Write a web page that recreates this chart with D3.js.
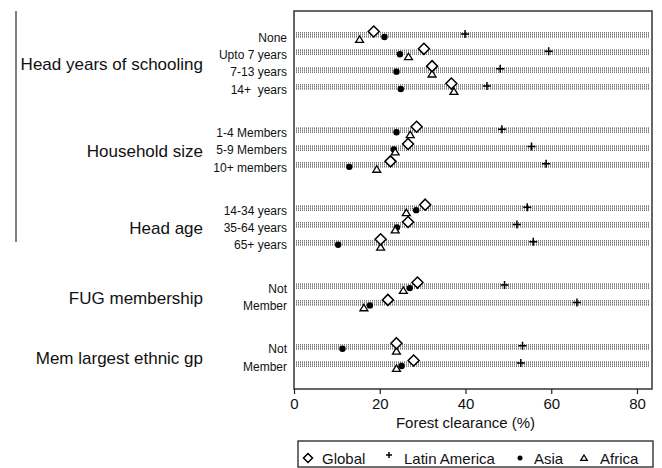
<!DOCTYPE html>
<html><head><meta charset="utf-8">
<script src="https://cdn.jsdelivr.net/npm/d3@7"></script>
<style>body{margin:0;background:#fff}svg{display:block;font-family:"Liberation Sans",Arial,Helvetica,sans-serif}</style>
</head><body><svg id="c" width="662" height="468"></svg>
<script>
const groups = ["Head years of schooling","Household size","Head age","FUG membership","Mem largest ethnic gp"];
const categories = ["None","Upto 7 years","7-13 years","14+  years","1-4 Members","5-9 Members","10+ members","14-34 years","35-64 years","65+ years","Not","Member","Not","Member"];
const categoryGroup = [0,0,0,0,1,1,1,2,2,2,3,3,4,4];
const globalVals = [18.6,30.3,32.2,36.7,28.6,26.6,22.5,30.6,26.6,20.2,28.8,21.9,23.9,27.9];
const latinVals  = [39.9,59.4,48.1,45.0,48.5,55.4,58.8,54.4,52.0,55.8,49.1,66.0,53.3,52.9];
const asiaVals   = [21.1,24.7,23.9,24.9,23.9,23.3,12.9,28.5,24.0,10.3,27.0,17.7,11.3,25.1];
const africaVals = [15.3,26.7,32.2,37.3,27.1,23.6,19.3,26.2,23.6,20.2,25.5,16.3,23.9,23.9];
const xTicks = [0,20,40,60,80];
const seriesNames = ["Global","Latin America","Asia","Africa"];

const svg = d3.select("#c");
const x = d3.scaleLinear().domain([0,83.5]).range([294,652]);
// slot index: item index plus extra gap per group
const slots = categories.map((c,i)=> i + categoryGroup[i]*1.5);
const y = d3.scaleLinear().domain([0,19]).range([35,364]);

// stray vertical line
svg.append("line").attr("x1",16).attr("x2",16).attr("y1",11).attr("y2",242)
  .attr("stroke","#555").attr("stroke-width",1.5);

// pattern for dotted bands
const defs = svg.append("defs");
const pat = defs.append("pattern").attr("id","dots").attr("patternUnits","userSpaceOnUse")
  .attr("width",2).attr("height",2);
pat.append("rect").attr("x",0).attr("y",0).attr("width",1).attr("height",1).attr("fill","#777");
pat.append("rect").attr("x",0).attr("y",1).attr("width",1).attr("height",1).attr("fill","#aaa");

svg.append("g").selectAll("rect").data(slots).join("rect")
  .attr("x",296).attr("width",354)
  .attr("y",d=>Math.round(y(d))-3).attr("height",6)
  .attr("fill","url(#dots)");

// frame
svg.append("rect").attr("x",294).attr("y",11).attr("width",358).attr("height",378)
  .attr("fill","none").attr("stroke","#333").attr("stroke-width",1.5);

// axis
const ax = svg.append("g").attr("transform","translate(0,389)")
  .call(d3.axisBottom(x).tickValues(xTicks).tickSize(5).tickPadding(4));
ax.select(".domain").remove();
ax.selectAll(".tick line").attr("stroke","#222").attr("stroke-width",1.2);
ax.selectAll(".tick text").attr("font-size",15).attr("fill","#111").attr("font-family","Liberation Sans, Arial, sans-serif");
svg.append("text").attr("x",x(40)).attr("y",428).attr("text-anchor","middle")
  .attr("font-size",15).attr("fill","#111").text("Forest clearance (%)");

// category labels
svg.append("g").selectAll("text").data(categories).join("text")
  .attr("x",287).attr("y",(d,i)=>y(slots[i])+2.5).attr("dy","0.35em")
  .attr("text-anchor","end").attr("font-size",12).attr("fill","#111").attr("xml:space","preserve")
  .text(d=>d);

// group labels
groups.forEach((g,gi)=>{
  const s = slots.filter((d,i)=>categoryGroup[i]===gi);
  const mid = (y(d3.min(s))+y(d3.max(s)))/2;
  svg.append("text").attr("x",203).attr("y",mid+3).attr("dy","0.35em")
    .attr("text-anchor","end").attr("font-size",17).attr("fill","#111").text(g);
});

// marker shapes
function diamond(sel, h){ sel.append("path").attr("d",`M0,${-h}L${h},0L0,${h}L${-h},0Z`).attr("fill","#fff").attr("stroke","#000").attr("stroke-width",1.5); }
function plus(sel, h){ sel.append("path").attr("d",`M${-h},0H${h}M0,${-h}V${h}`).attr("fill","none").attr("stroke","#000").attr("stroke-width",1.5); }
function dot(sel, r){ sel.append("circle").attr("r",r).attr("fill","#000"); }
function tri(sel, h){ sel.append("path").attr("d",`M0,${-h}L${h*1.1},${h*0.8}L${-h*1.1},${h*0.8}Z`).attr("fill","#fff").attr("stroke","#000").attr("stroke-width",1.3); }

const series = [
  {vals:latinVals, off:-1, draw:s=>plus(s,4)},
  {vals:asiaVals, off:2, draw:s=>dot(s,3.2)},
  {vals:africaVals, off:4.5, draw:s=>tri(s,3.6)},
  {vals:globalVals, off:-3.5, draw:s=>diamond(s,5.5)}
];
series.forEach(sr=>{
  svg.append("g").selectAll("g").data(sr.vals).join("g")
    .attr("transform",(d,i)=>`translate(${x(d)},${y(slots[i])+sr.off})`)
    .each(function(){ sr.draw(d3.select(this)); });
});

// legend
svg.append("rect").attr("x",298).attr("y",441).attr("width",355).attr("height",26)
  .attr("fill","#fff").attr("stroke","#222").attr("stroke-width",1.3);
const legItems = [
  {sx:308, tx:322, draw:s=>diamond(s,4.5)},
  {sx:389, tx:404, draw:s=>plus(s,3)},
  {sx:520, tx:534, draw:s=>dot(s,2.5)},
  {sx:584, tx:600, draw:s=>tri(s,3)}
];
legItems.forEach((it,i)=>{
  const g = svg.append("g").attr("transform",`translate(${it.sx},${i===1?455:458})`);
  it.draw(g);
  svg.append("text").attr("x",it.tx).attr("y",459).attr("dy","0.35em")
    .attr("font-size",15).attr("fill","#111").text(seriesNames[i]);
});
</script></body></html>
